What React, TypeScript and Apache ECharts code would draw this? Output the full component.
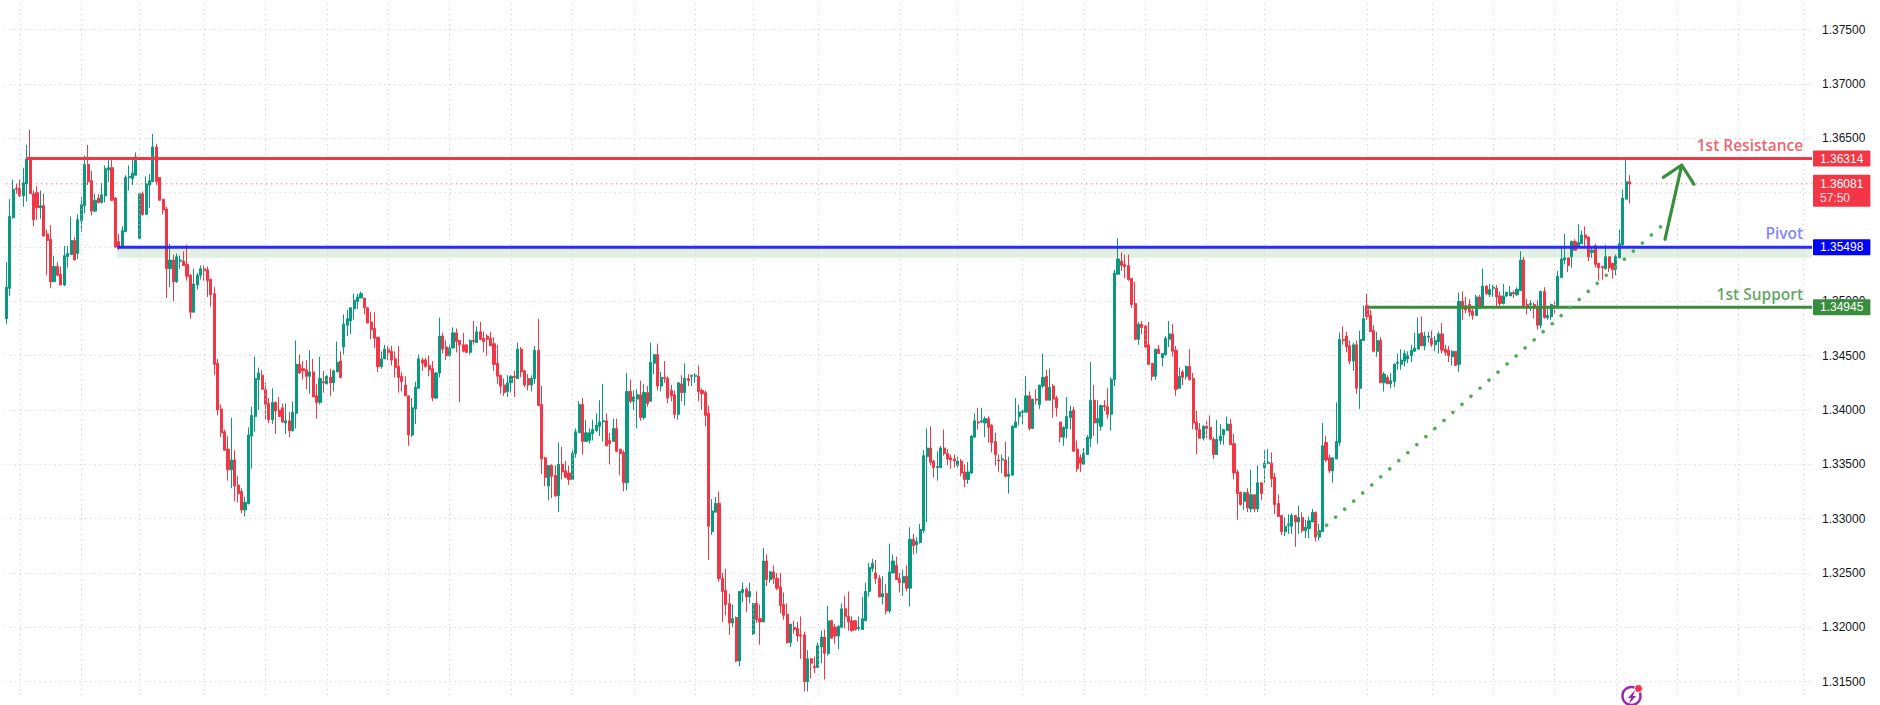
import React, { useEffect, useRef } from "react";
import * as echarts from "echarts";

// OHLC values in pips (price x 10000): [open, close, low, high]
const candlesA: number[][] = [
[13484,13513,13479,13536],[13512,13578,13505,13594],[13577,13603,13576,13612],[13604,13603,13599,13608],[13604,13597,13596,13612],[13597,13609,13587,13623],[13608,13631,13592,13644],[13631,13599,13599,13658],[13599,13575,13569,13602],[13600,13586,13575,13606],
[13586,13588,13576,13602],[13588,13560,13560,13599],[13562,13556,13524,13566],[13557,13518,13512,13570],[13518,13532,13518,13542],[13532,13524,13523,13536],[13525,13515,13515,13532],[13515,13542,13514,13551],[13541,13544,13531,13551],[13543,13556,13543,13578],
[13556,13538,13538,13559],[13544,13575,13539,13580],[13574,13589,13564,13596],[13588,13626,13581,13634],[13626,13610,13607,13644],[13611,13583,13579,13620],[13583,13593,13582,13599],[13595,13591,13590,13599],[13591,13598,13590,13609],[13597,13622,13591,13625],
[13621,13623,13610,13631],[13623,13593,13592,13630],[13595,13550,13549,13596],[13555,13550,13547,13562],[13550,13565,13550,13569],[13564,13614,13564,13616],[13614,13615,13602,13625],[13613,13618,13607,13631],[13616,13633,13616,13637],[13558,13599,13558,13599],
[13599,13580,13579,13601],[13580,13608,13580,13615],[13607,13611,13586,13617],[13610,13642,13610,13654],[13642,13610,13607,13645],[13614,13593,13593,13614],[13594,13584,13580,13594],[13585,13530,13503,13587],[13530,13538,13513,13553],[13538,13518,13500,13543],
[13518,13541,13517,13544],[13537,13538,13530,13542],[13537,13533,13533,13546],[13534,13523,13519,13552],[13524,13490,13484,13525],[13490,13516,13490,13530],[13515,13524,13511,13526],[13524,13530,13520,13533],[13530,13528,13519,13533],[13529,13519,13504,13532],
[13520,13506,13495,13521],[13507,13442,13432,13513],
];
const candlesB: number[][] = [
[13443,13400,13395,13447],[13401,13379,13375,13405],[13380,13363,13363,13382],[13364,13345,13335,13376],[13345,13354,13328,13393],[13354,13330,13316,13363],[13331,13323,13315,13339],[13325,13308,13305,13328],[13308,13315,13302,13320],[13314,13377,13313,13384],
[13376,13395,13346,13403],[13394,13429,13380,13449],[13428,13434,13400,13439],[13432,13419,13419,13437],[13419,13405,13391,13425],[13406,13391,13388,13411],[13391,13407,13387,13420],[13407,13399,13378,13408],[13400,13394,13394,13412],[13402,13389,13388,13406],
[13388,13390,13378,13406],[13390,13381,13375,13398],[13381,13398,13380,13408],[13397,13442,13383,13464],[13442,13434,13433,13451],[13438,13436,13428,13445],[13437,13431,13419,13446],[13431,13435,13415,13455],[13435,13412,13412,13447],[13413,13407,13392,13424],
[13407,13429,13405,13449],[13426,13425,13416,13436],[13424,13431,13424,13432],[13430,13425,13413,13438],[13425,13436,13417,13437],[13435,13444,13435,13463],[13445,13430,13429,13454],[13458,13479,13451,13488],[13478,13484,13468,13492],[13482,13494,13470,13494],
[13493,13501,13483,13507],[13500,13504,13493,13507],[13503,13507,13503,13509],[13503,13494,13488,13503],[13494,13480,13480,13495],[13481,13474,13465,13490],[13475,13466,13457,13490],[13467,13440,13435,13467],[13440,13447,13438,13454],[13447,13456,13447,13460],
[13456,13453,13446,13459],[13454,13446,13441,13459],[13447,13439,13430,13454],[13440,13430,13416,13459],[13431,13426,13417,13435],[13423,13413,13413,13431],[13413,13377,13367,13413],[13377,13402,13375,13411],[13401,13421,13387,13426],[13420,13447,13420,13451],
[13446,13443,13436,13448],[13446,13440,13439,13448],[13441,13437,13431,13450],[13438,13411,13408,13445],[13411,13434,13410,13435],[13434,13468,13430,13485],[13468,13456,13452,13471],[13458,13450,13446,13464],[13450,13457,13449,13460],[13457,13471,13457,13476],
[13471,13463,13453,13475],[13464,13460,13407,13464],[13460,13454,13453,13471],[13460,13453,13452,13460],[13453,13464,13451,13465],[13464,13463,13460,13482],[13462,13472,13462,13477],[13472,13465,13464,13481],[13466,13463,13453,13472],[13468,13465,13450,13470],
[13466,13459,13459,13472],[13461,13442,13436,13467],[13443,13431,13424,13460],[13432,13422,13415,13432],[13423,13416,13413,13429],[13417,13425,13412,13432],[13425,13431,13416,13432],[13431,13430,13412,13436],[13429,13456,13429,13462],
];
const candlesC: number[][] = [
[13456,13435,13430,13458],[13436,13423,13421,13437],[13429,13423,13418,13433],[13423,13429,13417,13432],[13429,13455,13424,13459],[13455,13404,13404,13484],[13405,13355,13341,13422],[13356,13338,13330,13357],[13330,13349,13317,13349],[13349,13339,13319,13350],
[13340,13321,13320,13349],[13321,13350,13306,13370],[13350,13343,13336,13366],[13344,13338,13338,13353],[13342,13336,13331,13349],[13336,13360,13336,13363],[13360,13380,13356,13383],[13379,13405,13379,13408],[13405,13371,13359,13411],[13371,13379,13371,13391],
[13372,13379,13369,13383],[13378,13382,13372,13391],[13381,13386,13380,13397],[13385,13389,13376,13409],[13389,13390,13371,13424],[13390,13367,13367,13397],[13372,13369,13350,13379],[13371,13383,13371,13392],[13383,13362,13361,13392],[13364,13360,13340,13364],
[13361,13333,13325,13363],[13333,13417,13326,13434],[13417,13408,13406,13428],[13408,13412,13400,13418],[13410,13414,13383,13419],[13414,13393,13390,13427],[13393,13416,13391,13424],[13416,13406,13403,13422],[13408,13444,13408,13462],[13443,13451,13433,13451],
[13451,13422,13418,13461],[13422,13430,13417,13435],[13430,13429,13425,13445],[13429,13411,13406,13431],[13418,13413,13408,13423],[13414,13396,13392,13418],[13396,13425,13391,13425],[13424,13416,13408,13432],[13416,13429,13404,13443],[13429,13427,13422,13433],
[13431,13432,13422,13432],[13431,13432,13425,13434],[13431,13417,13408,13441],[13418,13415,13400,13420],[13416,13395,13385,13418],[13397,13293,13262,13404],[13288,13307,13285,13318],[13306,13314,13306,13320],[13314,13245,13242,13325],[13245,13233,13205,13250],
[13234,13221,13211,13254],[13222,13204,13193,13231],[13204,13208,13200,13221],[13209,13169,13168,13210],[13169,13233,13164,13233],[13232,13235,13223,13241],[13235,13228,13214,13237],[13228,13233,13222,13241],[13194,13222,13193,13222],[13222,13207,13204,13233],
[13208,13205,13184,13221],[13205,13261,13205,13273],[13261,13244,13238,13267],[13244,13251,13241,13252],[13251,13245,13240,13257],[13245,13236,13234,13250],[13237,13220,13213,13250],[13221,13211,13207,13232],[13212,13186,13185,13222],[13186,13203,13182,13203],
[13200,13198,13194,13206],[13199,13192,13187,13205],[13193,13192,13171,13210],[13193,13150,13141,13196],[13150,13171,13141,13179],[13171,13167,13153,13172],[13164,13163,13158,13173],[13163,13183,13163,13186],[13182,13191,13167,13197],[13191,13176,13152,13198],
[13176,13206,13174,13220],[13206,13190,13190,13207],[13200,13192,13185,13203],[13192,13201,13180,13202],
];
const candlesD: number[][] = [
[13200,13217,13200,13222],[13217,13210,13199,13229],[13210,13205,13197,13233],[13206,13197,13196,13210],[13206,13198,13197,13207],[13199,13200,13197,13210],[13198,13208,13198,13228],[13206,13233,13206,13241],[13233,13255,13228,13259],[13254,13259,13251,13263],
[13250,13245,13240,13262],[13245,13228,13228,13248],[13228,13231,13221,13247],[13231,13215,13212,13240],[13215,13251,13213,13277],[13250,13261,13250,13267],[13257,13244,13244,13265],[13245,13241,13232,13250],[13241,13247,13229,13253],[13247,13236,13233,13257],
[13236,13281,13219,13292],[13281,13275,13267,13286],[13276,13279,13268,13283],[13278,13290,13277,13295],[13289,13358,13287,13363],[13357,13365,13297,13383],[13365,13352,13349,13385],[13353,13347,13338,13354],[13347,13348,13335,13362],[13347,13365,13347,13367],
[13365,13360,13358,13382],[13360,13355,13349,13364],[13356,13354,13346,13359],[13355,13353,13347,13359],[13349,13353,13347,13357],[13353,13342,13339,13355],[13343,13336,13329,13350],[13336,13343,13332,13352],[13342,13376,13341,13377],
[13375,13390,13375,13397],[13389,13388,13382,13402],[13389,13390,13388,13402],[13388,13392,13375,13394],[13392,13384,13370,13394],[13386,13370,13361,13387],[13371,13359,13349,13379],[13354,13353,13343,13359],[13354,13355,13342,13359],[13354,13339,13338,13371],
[13339,13341,13323,13357],[13340,13385,13340,13386],[13384,13389,13384,13411],[13394,13398,13386,13405],[13398,13399,13387,13401],[13398,13413,13398,13431],[13413,13383,13381,13417],[13383,13410,13383,13410],[13410,13409,13405,13419],[13405,13423,13401,13423],
[13422,13430,13420,13452],[13431,13409,13409,13437],[13409,13421,13409,13438],[13422,13410,13393,13424],[13411,13402,13394,13413],[13389,13375,13370,13389],[13375,13384,13367,13385],[13383,13394,13374,13412],[13393,13399,13382,13404],[13400,13362,13362,13403],
[13364,13346,13343,13372],[13356,13351,13343,13359],[13350,13360,13350,13365],[13359,13375,13359,13377],[13374,13409,13366,13444],[13409,13388,13376,13423],[13388,13392,13369,13409],[13385,13404,13381,13405],[13404,13403,13399,13409],[13403,13396,13392,13420],
[13396,13428,13381,13430],[13428,13526,13422,13529],[13525,13539,13525,13558],[13537,13533,13528,13545],[13534,13532,13521,13543],[13533,13520,13519,13543],[13521,13497,13494,13521],[13498,13465,13465,13518],[13465,13479,13460,13481],[13479,13476,13470,13482],
[13477,13458,13457,13479],[13460,13442,13442,13481],[13443,13431,13427,13443],[13431,13456,13428,13456],
];
const candlesE: number[][] = [
[13456,13452,13452,13460],[13448,13452,13440,13452],[13451,13466,13450,13468],[13465,13470,13458,13482],[13470,13454,13449,13479],[13455,13419,13413,13459],[13420,13431,13420,13439],[13435,13430,13423,13437],[13431,13440,13428,13441],[13440,13428,13427,13456],
[13429,13388,13382,13434],[13389,13382,13359,13399],[13382,13374,13374,13388],[13374,13385,13372,13386],[13385,13383,13374,13390],[13384,13373,13373,13395],[13373,13359,13355,13375],[13359,13373,13359,13391],[13372,13376,13368,13387],[13377,13382,13368,13382],
[13381,13387,13381,13394],[13387,13368,13368,13392],[13369,13342,13336,13378],[13343,13323,13299,13345],[13324,13313,13312,13325],[13316,13324,13308,13324],[13324,13310,13306,13328],[13309,13322,13306,13345],[13322,13309,13306,13322],[13309,13333,13306,13349],
[13333,13323,13317,13333],[13347,13351,13333,13363],[13351,13352,13350,13364],[13351,13337,13329,13361],[13338,13313,13304,13342],[13314,13302,13302,13322],[13303,13288,13285,13303],[13288,13293,13284,13301],[13294,13295,13286,13304],[13293,13303,13286,13305],
[13303,13297,13274,13303],[13297,13301,13286,13312],[13301,13289,13287,13306],[13289,13292,13282,13299],[13291,13298,13282,13302],[13297,13306,13297,13309],[13306,13283,13279,13306],[13283,13289,13280,13295],[13288,13367,13288,13388],[13370,13354,13352,13376],
[13356,13344,13342,13359],[13344,13356,13333,13356],[13355,13371,13355,13407],[13370,13465,13367,13471],[13465,13464,13460,13477],[13468,13458,13453,13472],[13459,13445,13442,13464],[13445,13460,13436,13462],[13460,13420,13415,13464],[13420,13465,13401,13473],
[13464,13484,13464,13496],[13496,13486,13483,13507],[13487,13472,13472,13492],[13473,13454,13453,13478],[13454,13464,13449,13472],[13464,13425,13425,13467],[13425,13433,13417,13435],[13430,13424,13424,13432],[13424,13427,13420,13434],[13426,13442,13421,13443],
[13443,13444,13437,13452],[13442,13446,13437,13456],[13445,13452,13440,13455],[13447,13450,13443,13454],[13450,13455,13444,13460],[13454,13457,13454,13471],[13456,13470,13456,13485],[13471,13459,13459,13486],[13459,13468,13455,13472],[13467,13468,13462,13472],
[13466,13460,13458,13473],[13460,13464,13454,13468],[13463,13470,13452,13472],[13470,13455,13452,13480],[13456,13453,13450,13460],
];
const candlesF: number[][] = [
[13455,13450,13444,13459],[13449,13454,13441,13455],[13454,13441,13441,13454],[13442,13500,13435,13508],[13500,13493,13483,13509],[13496,13492,13489,13504],[13497,13490,13486,13502],[13491,13487,13483,13493],[13487,13504,13487,13506],[13504,13494,13493,13506],
[13494,13514,13494,13530],[13514,13507,13506,13515],[13506,13511,13504,13516],[13512,13513,13504,13515],[13512,13504,13495,13515],[13505,13498,13494,13509],[13498,13505,13497,13516],[13505,13508,13504,13509],[13505,13508,13505,13514],[13508,13507,13503,13510],
[13506,13511,13505,13513],[13510,13538,13510,13546],[13538,13496,13495,13541],[13497,13494,13488,13502],[13497,13498,13491,13501],[13497,13494,13484,13499],[13494,13478,13474,13501],[13478,13509,13475,13510],[13509,13485,13484,13513],[13485,13487,13483,13495],
[13486,13497,13483,13498],[13496,13495,13489,13500],[13496,13523,13496,13528],[13522,13539,13522,13551],[13538,13540,13534,13562],[13540,13533,13527,13540],[13541,13555,13531,13556],[13555,13547,13547,13557],[13550,13554,13550,13571],[13553,13561,13553,13565],
[13561,13558,13550,13569],[13559,13541,13537,13560],[13545,13547,13540,13550],[13551,13534,13531,13553],[13535,13531,13519,13535],[13532,13531,13520,13533],[13530,13541,13529,13552],[13541,13531,13527,13541],[13535,13529,13521,13535],[13529,13541,13524,13543],
[13540,13553,13540,13566],[13552,13595,13549,13603],[13594,13610,13594,13631],[13610,13608,13590,13616],
];

const priceTicks = [1.375, 1.37, 1.365, 1.35, 1.345, 1.34, 1.335, 1.33, 1.325, 1.32, 1.315];
const resistanceLevel = 1.36314;
const pivotLevel = 1.35498;
const supportLevel = 1.34945;
const lastPrice = 1.36081;
const countdown = "57:50";
const zoneTop = 1.3549;
const zoneBottom = 1.354;
const totalBars = 530;
const gridBars = [4, 22, 39, 58, 76, 94, 112, 130, 148, 166, 184, 202, 219, 238, 262, 279, 298, 316, 334, 352, 369, 399, 418, 436, 454, 472, 490, 508, 527];
const trendLine = [[384.5, 1.32865], [489.8, 1.35818]];
const arrowLine = [[486.4, 1.35571], [491.3, 1.36254], [485.9, 1.36141], [491.3, 1.36254], [494.9, 1.36077]];
const levelTexts: [string, number, string][] = [
  ["1st Resistance", 1.36438, "#F23645"],
  ["Pivot", 1.35629, "#6464FF"],
  ["1st Support", 1.35067, "#388E3C"],
];

const FONT = "'Liberation Sans', Arial, sans-serif";
const UP = "#089981";
const DOWN = "#F23645";
const LAST_BAR = totalBars - 0.5;

export default function App() {
  const ref = useRef<HTMLDivElement>(null);
  useEffect(() => {
    document.body.style.margin = "0";
    const chart = echarts.init(ref.current!, undefined, { renderer: "svg" });
    const candles = [...candlesA, ...candlesB, ...candlesC, ...candlesD, ...candlesE, ...candlesF];
    const categories = Array.from({ length: totalBars }, (_, i) => String(i));
    const candleData = candles.map((c) => c.map((v) => v / 10000));

    const levelSeries = (name: string, start: number, level: number, color: string, width: number, dash: any, label: any) => ({
      name,
      type: "line",
      xAxisIndex: 1,
      yAxisIndex: 0,
      z: 5,
      symbol: "none",
      silent: true,
      lineStyle: { color, width, type: dash },
      data: [[start, level], [LAST_BAR, level]],
      endLabel: {
        show: true,
        distance: 1,
        fontFamily: FONT,
        fontSize: 12,
        color: "#fff",
        backgroundColor: color,
        align: "left",
        borderRadius: 1,
        ...label,
      },
    });

    chart.setOption({
      animation: false,
      backgroundColor: "#ffffff",
      grid: { left: 4.6, width: 1807.4, top: -24.7, height: 760.7, containLabel: false, outerBoundsMode: "none" },
      xAxis: [
        { type: "category", data: categories, show: false, boundaryGap: true },
        { type: "value", min: -0.5, max: LAST_BAR, show: false },
      ],
      yAxis: {
        type: "value",
        position: "right",
        min: 1.31,
        max: 1.38,
        interval: 0.005,
        axisLine: { show: false },
        axisTick: { show: false },
        splitLine: { show: true, lineStyle: { color: "#c9c9c9", width: 1, type: [1, 4] } },
        axisLabel: {
          margin: 10,
          fontFamily: FONT,
          fontSize: 12,
          color: "#131722",
          formatter: (v: number) => (priceTicks.some((t) => Math.abs(t - v) < 1e-6) ? v.toFixed(5) : ""),
        },
      },
      series: [
        {
          name: "vertical grid",
          type: "line",
          xAxisIndex: 1,
          z: 1,
          symbol: "none",
          silent: true,
          data: [],
          markLine: {
            silent: true,
            symbol: "none",
            label: { show: false },
            lineStyle: { color: "#c9c9c9", width: 1, type: [1, 4] },
            data: gridBars.map((b) => [{ coord: [b, 1.3778] }, { coord: [b, 1.3136] }]),
          },
          markArea: {
            silent: true,
            itemStyle: { color: "#E1F0E3" },
            data: [[{ coord: [32.5, zoneTop] }, { coord: [LAST_BAR, zoneBottom] }]],
          },
        },
        {
          name: "price",
          type: "candlestick",
          xAxisIndex: 0,
          z: 3,
          barWidth: 2.6,
          silent: true,
          itemStyle: { color: UP, color0: DOWN, borderColor: UP, borderColor0: DOWN, borderWidth: 1 },
          data: candleData,
        },
        levelSeries("last", 0, lastPrice, DOWN, 1, [1, 4], {
          offset: [0, 7],
          formatter: `{a|${lastPrice.toFixed(5)}}\n{b|${countdown}}`,
          padding: [2, 7, 2, 7],
          rich: {
            a: { color: "#fff", fontFamily: FONT, fontSize: 12, lineHeight: 14 },
            b: { color: "#fde1e4", fontFamily: FONT, fontSize: 12, lineHeight: 14 },
          },
        }),
        levelSeries("resistance", 5.8, resistanceLevel, DOWN, 3, "solid", {
          formatter: resistanceLevel.toFixed(5),
          padding: [2, 7, 2, 7],
        }),
        levelSeries("pivot", 32.5, pivotLevel, "#2a2aff", 3, "solid", {
          formatter: pivotLevel.toFixed(5),
          backgroundColor: "#0000FF",
          padding: [2, 7, 2, 7],
        }),
        levelSeries("support", 399.5, supportLevel, "#388E3C", 3, "solid", {
          formatter: supportLevel.toFixed(5),
          padding: [2, 7, 2, 7],
        }),
        {
          name: "trend",
          type: "line",
          xAxisIndex: 1,
          z: 6,
          symbol: "none",
          silent: true,
          lineStyle: { color: "#4CAF50", width: 3.5, type: [0.1, 12], cap: "round" },
          data: trendLine,
        },
        {
          name: "arrow",
          type: "line",
          xAxisIndex: 1,
          z: 6,
          symbol: "none",
          silent: true,
          lineStyle: { color: "#388E3C", width: 3.2, cap: "round", join: "round" },
          data: arrowLine,
        },
        {
          name: "level names",
          type: "scatter",
          xAxisIndex: 1,
          z: 7,
          symbolSize: 0,
          silent: true,
          data: levelTexts.map(([text, price, color]) => ({
            value: [526.9, price],
            label: {
              show: true,
              position: "left",
              distance: 0,
              formatter: text,
              color,
              fontFamily: "'Open Sans', sans-serif",
              fontWeight: 600,
              fontSize: 15.5,
            },
          })),
        },
      ],
      graphic: [
        { type: "arc", z: 20, silent: true, shape: { cx: 1631.5, cy: 696, r: 9, startAngle: 0, endAngle: Math.PI * 2 }, style: { fill: "none", stroke: "#9C27B0", lineWidth: 2.5 } },
        { type: "polygon", z: 20, silent: true, shape: { points: [[1635, 690], [1628, 698], [1631, 698], [1629, 704], [1636, 696], [1633, 696]] }, style: { fill: "#9C27B0" } },
        { type: "circle", z: 21, silent: true, shape: { cx: 1638.5, cy: 688.5, r: 4 }, style: { fill: "#F23645", stroke: "#fff", lineWidth: 1 } },
      ],
    });
    return () => chart.dispose();
  }, []);
  return <div ref={ref} style={{ width: 1880, height: 705, overflow: "hidden" }} />;
}
